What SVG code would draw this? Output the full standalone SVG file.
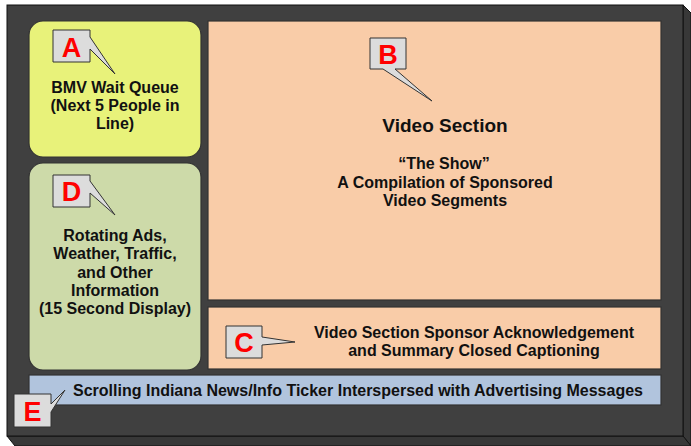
<svg xmlns="http://www.w3.org/2000/svg" width="691" height="446" viewBox="0 0 691 446">
<style>
.t{font-family:"Liberation Sans",Arial,sans-serif;font-weight:bold;font-size:16px;fill:#111;text-anchor:middle}
.big{font-size:19px}
.lbl{font-family:"Liberation Sans",Arial,sans-serif;font-weight:bold;font-size:27px;fill:#ff0000;text-anchor:middle}
.co{fill:#dcdcdc;stroke:#333;stroke-width:1}
.pn{stroke:#333;stroke-width:1.2}
</style>
<rect width="691" height="446" fill="#ffffff"/>
<g id="frame">
<polygon points="683,5 691,13 691,446 683,436" fill="#383838" stroke="#111" stroke-width="1"/>
<polygon points="7,436 683,436 691,446 15,446" fill="#383838" stroke="#111" stroke-width="1"/>
<rect x="7" y="5" width="676" height="431" fill="#404040" stroke="#111" stroke-width="1"/>
</g>
<g id="A">
<rect class="pn" x="29" y="21" width="172" height="136" rx="14" fill="#e8f27a"/>
<text class="t" x="115" y="93">BMV Wait Queue</text>
<text class="t" x="115" y="111">(Next 5 People in</text>
<text class="t" x="115" y="129">Line)</text>
</g>
<g id="D">
<rect class="pn" x="29" y="163" width="172" height="207" rx="14" fill="#cddaa9"/>
<text class="t" x="115" y="241">Rotating Ads,</text>
<text class="t" x="115" y="259">Weather, Traffic,</text>
<text class="t" x="115" y="278">and Other</text>
<text class="t" x="115" y="296">Information</text>
<text class="t" x="115" y="314">(15 Second Display)</text>
</g>
<g id="B">
<rect class="pn" x="208" y="21" width="453" height="279" fill="#f9cca8"/>
<text class="t big" x="445" y="132">Video Section</text>
<text class="t" x="444" y="169">“The Show”</text>
<text class="t" x="445" y="188">A Compilation of Sponsored</text>
<text class="t" x="445" y="206">Video Segments</text>
</g>
<g id="C">
<rect class="pn" x="208" y="307" width="453" height="62" fill="#f9cca8"/>
<text class="t" x="474" y="338">Video Section Sponsor Acknowledgement</text>
<text class="t" x="474" y="356">and Summary Closed Captioning</text>
</g>
<g id="E">
<rect class="pn" x="29" y="375" width="632" height="30" fill="#b1c4dd"/>
<text class="t" x="358" y="396">Scrolling Indiana News/Info Ticker Interspersed with Advertising Messages</text>
</g>
<g id="callouts">
<g id="callA">
<path class="co" d="M53,30 H90 V37 L115,74 L90,49 V62 H53 Z"/>
<text class="lbl" x="71.5" y="57">A</text>
</g>
<g id="callB">
<path class="co" d="M370,38 H406 V69 H395 L432,101 L383,69 H370 Z"/>
<text class="lbl" x="388" y="64">B</text>
</g>
<g id="callC">
<path class="co" d="M226,326 H262 V337 L295,342 L262,345 V358 H226 Z"/>
<text class="lbl" x="244" y="352">C</text>
</g>
<g id="callD">
<path class="co" d="M53,175 H90 V181 L115,215 L90,193 V207 H53 Z"/>
<text class="lbl" x="71.5" y="201">D</text>
</g>
<g id="callE">
<path class="co" d="M14,394 H51 V404 L65,390 L51,412 V427 H14 Z"/>
<text class="lbl" x="32.5" y="421">E</text>
</g>
</g>
</svg>
